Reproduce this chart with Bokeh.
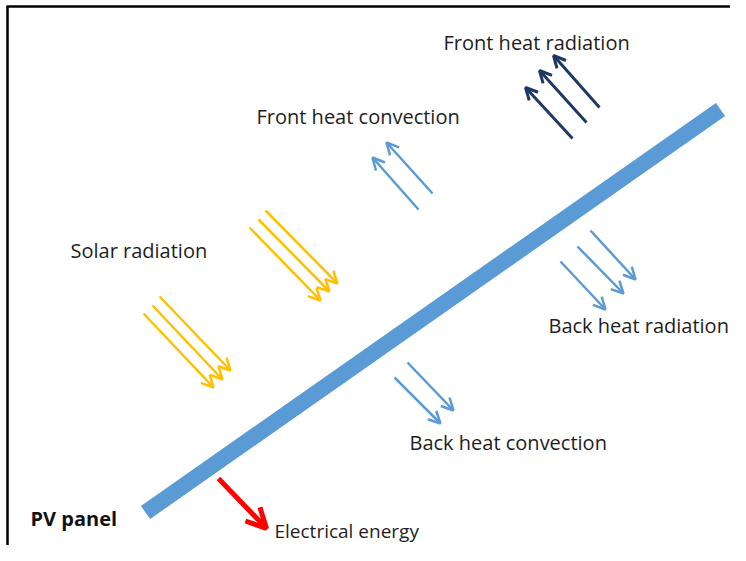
from bokeh.plotting import figure
from bokeh.models import Range1d, Arrow, OpenHead, ColumnDataSource
from bokeh.core.properties import value
from bokeh.embed import file_html
from bokeh.resources import INLINE

# ---- diagram data (reference pixel coordinates, y downward) ----
panel_x = [145, 720]
panel_y = [512, 109]

solar_x0 = [143, 152, 159, 249, 258, 265]
solar_y0 = [313, 305, 296, 227, 219, 210]
solar_x1 = [213, 222, 230, 320, 329, 337]
solar_y1 = [387, 379, 370, 300, 291, 283]

fconv_x0 = [418, 432]
fconv_y0 = [209, 193]
fconv_x1 = [372, 386]
fconv_y1 = [157, 142]

frad_x0 = [572, 586, 599]
frad_y0 = [138, 122, 107]
frad_x1 = [525, 539, 553]
frad_y1 = [87, 70, 55]

brad_x0 = [560, 577, 590]
brad_y0 = [261, 246, 230]
brad_x1 = [605, 623, 635]
brad_y1 = [309, 293, 279]

bconv_x0 = [394, 407]
bconv_y0 = [377, 362]
bconv_x1 = [440, 453]
bconv_y1 = [423, 410]

elec_x0 = [218]
elec_y0 = [478]
elec_x1 = [266]
elec_y1 = [528]

label_text = ["Solar radiation", "Front heat convection", "Front heat radiation",
              "Back heat radiation", "Back heat convection"]
label_x = [70, 256, 443, 548, 409]
label_y = [250, 116, 42, 325, 442]

elec_text = ["Electrical energy"]
elec_tx = [274]
elec_ty = [530]

pv_text = ["PV panel"]
pv_x = [30]
pv_y = [518]

W, H = 730, 545
p = figure(width=W, height=H, x_range=Range1d(0, W), y_range=Range1d(H, 0),
           output_backend="svg", toolbar_location=None, min_border=0,
           outline_line_color=None, background_fill_color="white")
p.axis.visible = False
p.grid.visible = False

# frame (top and left edges)
p.line([6, W], [6, 6], line_color="black", line_width=2.5)
p.line([7, 7], [6, H], line_color="black", line_width=2.5)

# PV panel
p.line(panel_x, panel_y, line_color="#5B9BD5", line_width=16, line_cap="butt")


def arrows(x0, y0, x1, y1, color, lw, size):
    src = ColumnDataSource(dict(x0=x0, y0=y0, x1=x1, y1=y1))
    p.add_layout(Arrow(source=src, x_start="x0", y_start="y0", x_end="x1", y_end="y1",
                       line_color=color, line_width=lw,
                       end=OpenHead(size=size, line_color=color, line_width=lw)))


arrows(solar_x0, solar_y0, solar_x1, solar_y1, "#FFC000", 2.5, 12)
arrows(fconv_x0, fconv_y0, fconv_x1, fconv_y1, "#5B9BD5", 2.5, 12)
arrows(frad_x0, frad_y0, frad_x1, frad_y1, "#1F3864", 3, 12)
arrows(brad_x0, brad_y0, brad_x1, brad_y1, "#5B9BD5", 2.5, 12)
arrows(bconv_x0, bconv_y0, bconv_x1, bconv_y1, "#5B9BD5", 2.5, 12)
arrows(elec_x0, elec_y0, elec_x1, elec_y1, "#FF0000", 5, 20)

p.text(label_x, label_y, text=label_text, text_font=value("Open Sans"),
       text_font_size="20px", text_color="#1e1e1e", text_baseline="middle", text_align="left")
p.text(elec_tx, elec_ty, text=elec_text, text_font=value("Open Sans"),
       text_font_size="19px", text_color="#1e1e1e", text_baseline="middle", text_align="left")
p.text(pv_x, pv_y, text=pv_text, text_font=value("Open Sans"), text_font_style="bold",
       text_font_size="20px", text_color="#111111", text_baseline="middle", text_align="left")

open("out.html", "w").write(file_html(p, INLINE))
